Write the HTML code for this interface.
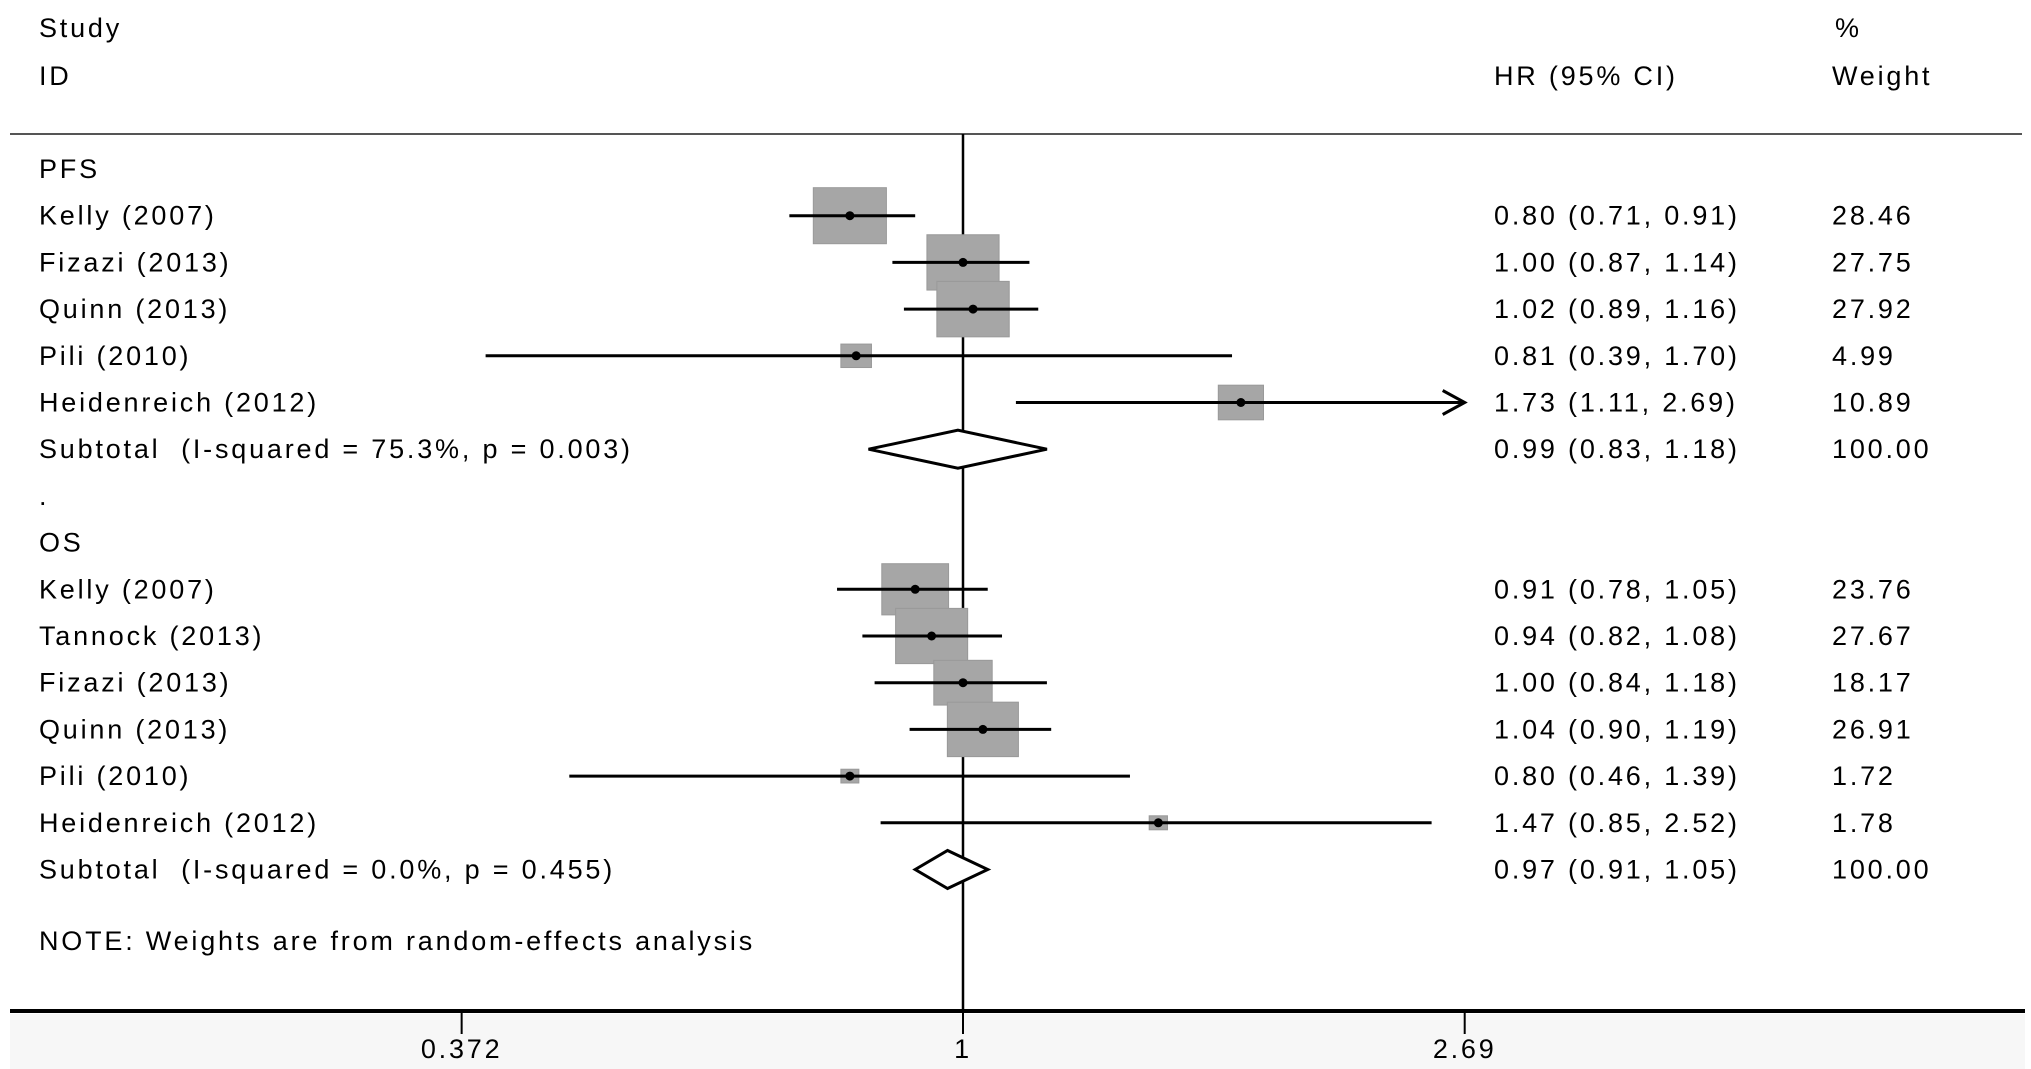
<!DOCTYPE html>
<html><head><meta charset="utf-8"><style>
html,body{margin:0;padding:0;background:#fff;}
svg{display:block;font-family:"Liberation Sans",sans-serif;}
text{font-size:27px;fill:#000;letter-spacing:2.8px;white-space:pre;}
</style></head><body>
<svg id="chart" width="2031" height="1069" viewBox="0 0 2031 1069" xmlns="http://www.w3.org/2000/svg">
<rect x="10" y="1014" width="2015" height="55" fill="#f7f7f7"/>
<text x="39" y="37">Study</text>
<text x="39" y="85">ID</text>
<text x="1494" y="85">HR (95% CI)</text>
<text x="1835" y="37">%</text>
<text x="1832" y="85">Weight</text>
<line x1="10" y1="134" x2="2022" y2="134" stroke="#555" stroke-width="2"/>
<g id="marks"></g>
<line x1="10" y1="1011" x2="2025" y2="1011" stroke="#000" stroke-width="4"/>
<g id="ticks"></g>
</svg>
<script>
const labels=["PFS","Kelly (2007)","Fizazi (2013)","Quinn (2013)","Pili (2010)","Heidenreich (2012)","Subtotal  (I-squared = 75.3%, p = 0.003)",".","OS","Kelly (2007)","Tannock (2013)","Fizazi (2013)","Quinn (2013)","Pili (2010)","Heidenreich (2012)","Subtotal  (I-squared = 0.0%, p = 0.455)"];
const kinds=["h","s","s","s","s","s","d","b","h","s","s","s","s","s","s","d"];
const hr=[null,0.80,1.00,1.02,0.81,1.73,0.99,null,null,0.91,0.94,1.00,1.04,0.80,1.47,0.97];
const lo=[null,0.71,0.87,0.89,0.39,1.11,0.83,null,null,0.78,0.82,0.84,0.90,0.46,0.85,0.91];
const hi=[null,0.91,1.14,1.16,1.70,2.69,1.18,null,null,1.05,1.08,1.18,1.19,1.39,2.52,1.05];
const weights=[null,28.46,27.75,27.92,4.99,10.89,100.00,null,null,23.76,27.67,18.17,26.91,1.72,1.78,100.00];
const tickVals=[0.372,1,2.69];
const tickLabels=["0.372","1","2.69"];
const NS="http://www.w3.org/2000/svg";
const g=document.getElementById('marks'), tg=document.getElementById('ticks');
const X=v=>963+507*Math.log(v);
const rowY=i=>169+i*46.7;
const xMin=X(tickVals[0]), xMax=X(tickVals[2]);
function mk(tag,a,p){const e=document.createElementNS(NS,tag);for(const k in a)e.setAttribute(k,a[k]);(p||g).appendChild(e);return e;}
const nl=mk('line',{x1:X(1),y1:134,x2:X(1),y2:1011,stroke:'#000','stroke-width':2.5});


const f=v=>v.toFixed(2);
labels.forEach((lab,i)=>{
  const y=rowY(i);
  const t=mk('text',{x:39,y:y+9});t.textContent=lab;
  
  
  if(kinds[i]==='s'||kinds[i]==='d'){
    const ht=mk('text',{x:1494,y:y+9});ht.textContent=f(hr[i])+" ("+f(lo[i])+", "+f(hi[i])+")";
    
    
    const wt=mk('text',{x:1832,y:y+9});wt.textContent=weights[i].toFixed(2);
    
    
  }
  if(kinds[i]==='s'){
    const s=Math.sqrt(weights[i]), w=13.7*s, h=10.5*s;
    const r=mk('rect',{x:X(hr[i])-w/2,y:y-h/2,width:w,height:h,fill:'#a6a6a6',stroke:'#999','stroke-width':1});
    
    
  }
});
labels.forEach((lab,i)=>{
  if(kinds[i]!=='s')return;
  const y=rowY(i);
  const x1=Math.max(X(lo[i]),xMin), x2=Math.min(X(hi[i]),xMax);
  const l=mk('line',{x1:x1,y1:y,x2:x2,y2:y,stroke:'#000','stroke-width':3});
  
  
  if(hi[i]>=tickVals[2]){
    const a=mk('path',{d:`M${x2-22},${y-12} L${x2},${y} L${x2-22},${y+12}`,fill:'none',stroke:'#000','stroke-width':3});
    
    
  }
  const c=mk('circle',{cx:X(hr[i]),cy:y,r:4.5,fill:'#000'});
  
  
});
labels.forEach((lab,i)=>{
  if(kinds[i]!=='d')return;
  const y=rowY(i);
  const d=mk('polygon',{points:`${X(lo[i])},${y} ${X(hr[i])},${y-19} ${X(hi[i])},${y} ${X(hr[i])},${y+19}`,fill:'#fff',stroke:'#000','stroke-width':3});
  
  
});
const note=mk('text',{x:39,y:950});note.textContent="NOTE: Weights are from random-effects analysis";


tickVals.forEach((v,i)=>{
  const tl=mk('line',{x1:X(v),y1:1011,x2:X(v),y2:1034,stroke:'#000','stroke-width':2},tg);
  
  
  const tt=mk('text',{x:X(v),y:1058,'text-anchor':'middle'},tg);tt.textContent=tickLabels[i];
  
  
});
</script>
</body></html>
